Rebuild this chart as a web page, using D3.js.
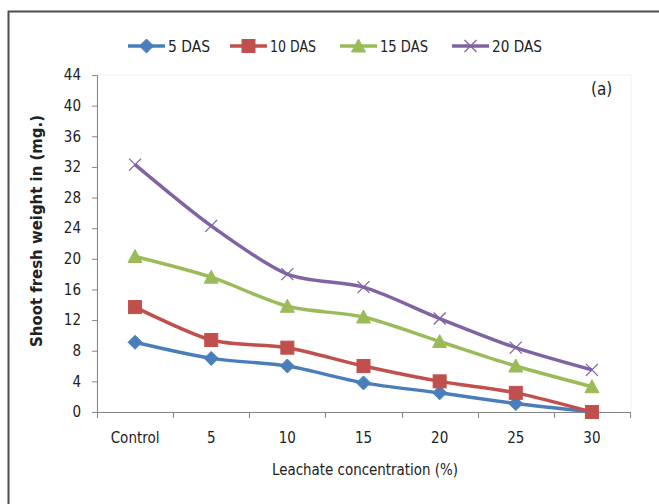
<!DOCTYPE html>
<html><head><meta charset="utf-8">
<script src="https://cdn.jsdelivr.net/npm/d3@7"></script>
<style>body{margin:0;background:#fff}svg{display:block}text{font-family:"Liberation Sans Narrow","DejaVu Sans Condensed","Open Sans",sans-serif;fill:#222}</style>
</head><body>
<svg id="c" width="659" height="504"></svg>
<script>
const categories = ["Control","5","10","15","20","25","30"];
const seriesNames = ["5 DAS","10 DAS","15 DAS","20 DAS"];
const das5  = [9.1, 7.0, 6.0, 3.8, 2.5, 1.1, 0];
const das10 = [13.7, 9.4, 8.4, 6.0, 4.0, 2.5, 0];
const das15 = [20.3, 17.6, 13.8, 12.4, 9.2, 6.0, 3.3];
const das20 = [32.3, 24.3, 18.0, 16.3, 12.2, 8.4, 5.5];
const yTicks = [0,4,8,12,16,20,24,28,32,36,40,44];
const colors = ["#4A7EBB","#C0504D","#9BBB59","#8064A2"];
const markers = ["diamond","square","triangle","x"];
const values = [das5, das10, das15, das20];
const FF = '"Liberation Sans Narrow","DejaVu Sans Condensed","Open Sans",sans-serif';

const svg = d3.select("#c");
svg.append("path").attr("d","M8.5,504 V11.5 H659").attr("fill","none").attr("stroke","#4d4d4d").attr("stroke-width",2);

const L=97, R=630, T=75, B=412;
const x = d3.scaleBand().domain(categories).range([L,R]);
const y = d3.scaleLinear().domain([0,44]).range([B,T]);

svg.append("rect").attr("x",L).attr("y",T).attr("width",R-L+1).attr("height",B-T).attr("fill","none").attr("stroke","#f0f0f0");

const ya = svg.append("g").attr("transform",`translate(${L},0)`).call(d3.axisLeft(y).tickValues(yTicks).tickSize(5).tickPadding(11));
ya.attr("font-family",FF).attr("font-size",15);
ya.select(".domain").attr("stroke","#868686").attr("d",`M-5,${T}.5H0.5V${B}.5`);
ya.selectAll(".tick line").attr("stroke","#868686");
ya.selectAll(".tick text").attr("fill","#222");

const xa = svg.append("g").attr("transform",`translate(0,${B})`).call(d3.axisBottom(x).tickSize(0).tickPadding(20));
xa.attr("font-family",FF).attr("font-size",15);
xa.select(".domain").attr("stroke","#868686").attr("d",`M${L},0.5H${R}.5`);
xa.selectAll(".tick text").attr("fill","#222");
const bounds = categories.map((c)=>x(c)).concat([R]);
xa.selectAll(".bt").data(bounds).enter().append("line").attr("class","bt")
  .attr("x1",d=>Math.round(d)+0.5).attr("x2",d=>Math.round(d)+0.5).attr("y1",0).attr("y2",6).attr("stroke","#868686");

const cx = c => x(c)+x.bandwidth()/2;
const line = d3.line().x((d,i)=>cx(categories[i])).y(d=>y(d)).curve(d3.curveCardinal.tension(0.15));

function marker(g, type, color, px, py){
  if(type==="diamond"){
    g.append("path").attr("d",`M${px},${py-7}L${px+7},${py}L${px},${py+7}L${px-7},${py}Z`).attr("fill",color).attr("stroke",color).attr("stroke-width",1);
  } else if(type==="square"){
    g.append("rect").attr("x",px-6.5).attr("y",py-6.5).attr("width",13).attr("height",13).attr("fill",color).attr("stroke",color).attr("stroke-width",1);
  } else if(type==="triangle"){
    g.append("path").attr("d",`M${px},${py-7}L${px+7},${py+6}L${px-7},${py+6}Z`).attr("fill",color).attr("stroke",color).attr("stroke-width",1);
  } else {
    g.append("path").attr("d",`M${px-6},${py-6}L${px+6},${py+6}M${px+6},${py-6}L${px-6},${py+6}`).attr("stroke",color).attr("stroke-width",1.3).attr("fill","none");
  }
}

values.forEach((vals,si)=>{
  const g = svg.append("g");
  g.append("path").datum(vals).attr("d",line).attr("fill","none").attr("stroke",colors[si]).attr("stroke-width",3.5).attr("stroke-linejoin","round");
  vals.forEach((v,i)=>marker(g, markers[si], colors[si], cx(categories[i]), y(v)));
});

const legX = [128, 230, 340, 452];
const legW = [42, 46, 48, 50];
const leg = svg.append("g");
seriesNames.forEach((n,i)=>{
  const lx = legX[i], ly = 46;
  leg.append("line").attr("x1",lx).attr("x2",lx+37).attr("y1",ly).attr("y2",ly).attr("stroke",colors[i]).attr("stroke-width",3.5);
  marker(leg, markers[i], colors[i], lx+18.5, ly);
  leg.append("text").attr("x",lx+40).attr("y",ly+5.5).attr("font-size",15).attr("textLength",legW[i]).attr("lengthAdjust","spacingAndGlyphs").text(n);
});

svg.append("text").attr("x",591).attr("y",95).attr("font-size",17).text("(a)");

svg.append("text").attr("transform","translate(42,231) rotate(-90)").attr("text-anchor","middle")
  .attr("font-size",15).attr("font-weight","bold").attr("textLength",232).attr("lengthAdjust","spacingAndGlyphs").text("Shoot fresh weight in (mg.)");
svg.append("text").attr("x",365).attr("y",475).attr("text-anchor","middle").attr("font-size",15)
  .attr("textLength",186).attr("lengthAdjust","spacingAndGlyphs").text("Leachate concentration  (%)");
</script>
</body></html>
